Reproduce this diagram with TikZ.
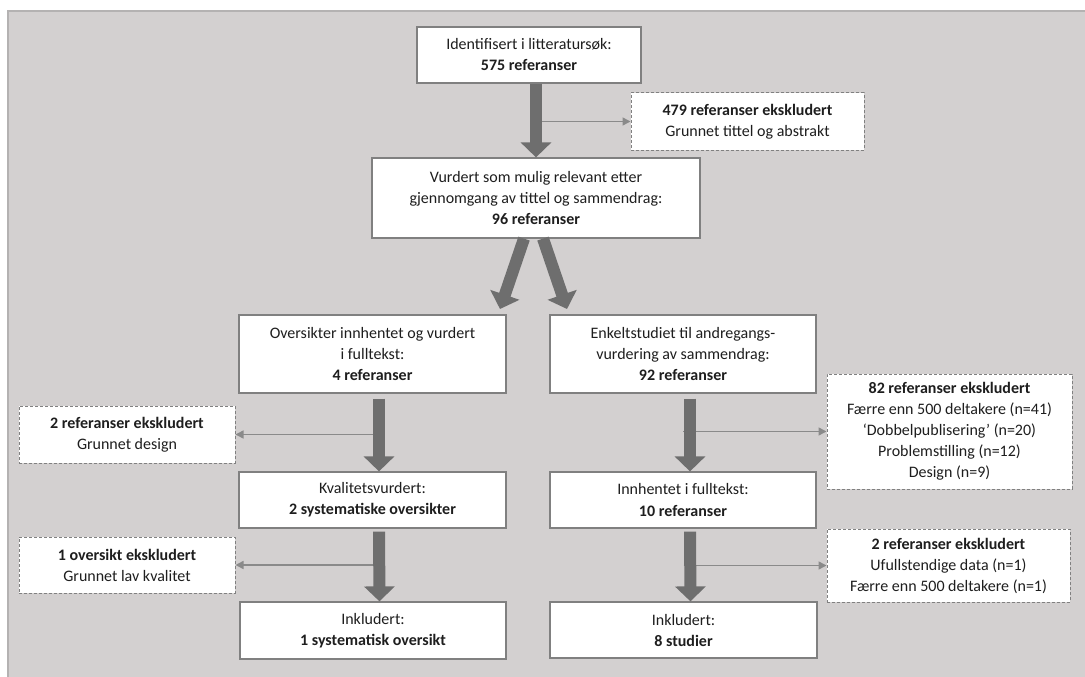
\documentclass[tikz,border=0pt]{standalone}
\usepackage{fontspec}
\setmainfont{Carlito}
\usetikzlibrary{arrows.meta}
\definecolor{panel}{HTML}{D3D0D0}
\definecolor{panelline}{HTML}{B4B2B2}
\definecolor{boxgrey}{HTML}{808080}
\definecolor{arrowgrey}{HTML}{6E6E6E}
\definecolor{thingrey}{HTML}{8A8A8A}
\definecolor{txt}{HTML}{1E1E1E}

\begin{document}
\begin{tikzpicture}[x=1pt,y=-1pt,
  box/.style={draw=boxgrey,fill=white,line width=1.2pt,align=center,inner sep=0pt,text=txt,font=\fontsize{16}{21}\selectfont},
  ex/.style={box,dash pattern=on 3pt off 2pt,line width=1pt},
  big/.style={draw=arrowgrey,line width=12pt,-{Triangle[length=15pt,width=30pt]}},
  thin/.style={draw=thingrey,line width=1.5pt,-{Triangle[length=8pt,width=8pt]}}]

\useasboundingbox (0,0) rectangle (1085,677);
\fill[panel] (8,11) rectangle (1085,677);
\draw[panelline,line width=1.5pt] (8,677) -- (8,11) -- (1085,11);

\node[box,minimum width=224pt,minimum height=56pt] (id)  at (529,55)    {Identifisert i litteraturs\o k:\\\textbf{575 referanser}};
\node[ex,minimum width=233pt,minimum height=57pt]  (ex1) at (747.5,121.5) {\textbf{479 referanser ekskludert}\\Grunnet tittel og abstrakt};
\node[box,minimum width=328pt,minimum height=80pt] (scr) at (536,198)   {Vurdert som mulig relevant etter\\gjennomgang av tittel og sammendrag:\\\textbf{96 referanser}};
\node[box,minimum width=267pt,minimum height=78pt] (ov)  at (372.5,354) {Oversikter innhentet og vurdert\\i fulltekst:\\\textbf{4 referanser}};
\node[box,minimum width=266pt,minimum height=78pt] (en)  at (683,354)   {Enkeltstudiet til andregangs-\\vurdering av sammendrag:\\\textbf{92 referanser}};
\node[ex,minimum width=216pt,minimum height=57pt]  (ex2) at (127,434.5) {\textbf{2 referanser ekskludert}\\Grunnet design};
\node[ex,minimum width=245pt,minimum height=115pt] (ex3) at (949.5,431.5) {\textbf{82 referanser ekskludert}\\F\ae rre enn 500 deltakere (n=41)\\‘Dobbelpublisering’ (n=20)\\Problemstilling (n=12)\\Design (n=9)};
\node[box,minimum width=267pt,minimum height=56pt] (kv)  at (372.5,500) {Kvalitetsvurdert:\\\textbf{2 systematiske oversikter}};
\node[box,minimum width=266pt,minimum height=56pt] (inn) at (683,500)   {Innhentet i fulltekst:\\\textbf{10 referanser}};
\node[ex,minimum width=216pt,minimum height=56pt]  (ex4) at (127,565)   {\textbf{1 oversikt ekskludert}\\Grunnet lav kvalitet};
\node[ex,minimum width=243pt,minimum height=73pt]  (ex5) at (948.5,565.5) {\textbf{2 referanser ekskludert}\\Ufullstendige data (n=1)\\F\ae rre enn 500 deltakere (n=1)};
\node[box,minimum width=266pt,minimum height=57pt] (inL) at (373,630.5) {Inkludert:\\\textbf{1 systematisk oversikt}};
\node[box,minimum width=267pt,minimum height=56pt] (inR) at (683.5,630) {Inkludert:\\\textbf{8 studier}};

\coordinate (fl) at (500,309);
\coordinate (fr) at (567,309);

\draw[thin] (scr.north |- ex1.west) -- (ex1.west);
\draw[thin] (kv.north |- ex2.east) -- (ex2.east);
\draw[thin] (inL.north |- ex4.east) -- (ex4.east);
\draw[thin] (inn.north |- ex3.west) -- (ex3.west);
\draw[thin] (inR.north |- ex5.west) -- (ex5.west);

\draw[big] (id.south -| scr.north) -- (scr.north);
\draw[big] ([xshift=-12pt]scr.south) -- (fl);
\draw[big] ([xshift=7pt]scr.south) -- (fr);
\draw[big] ([xshift=6.5pt,yshift=-5pt]ov.south) -- ([xshift=6.5pt]kv.north);
\draw[big] ([xshift=6.5pt,yshift=-3pt]kv.south) -- ([xshift=6.5pt]inL.north);
\draw[big] ([xshift=7pt,yshift=-5pt]en.south) -- ([xshift=7pt]inn.north);
\draw[big] ([xshift=7pt,yshift=-3pt]inn.south) -- ([xshift=7pt]inR.north);
\end{tikzpicture}
\end{document}
